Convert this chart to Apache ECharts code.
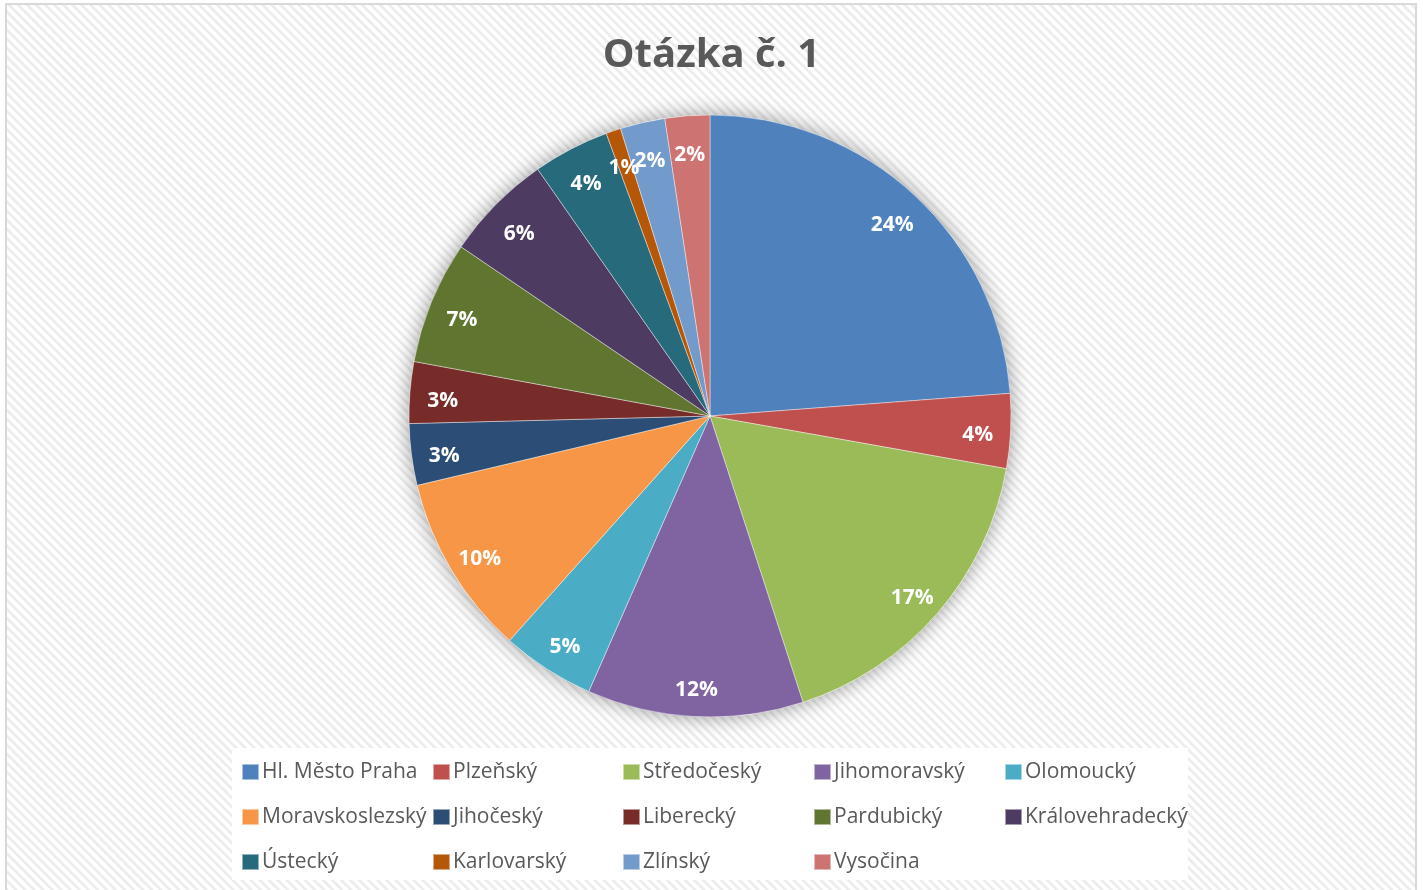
<!DOCTYPE html>
<html>
<head>
<meta charset="utf-8">
<script src="https://cdn.jsdelivr.net/npm/echarts@6/dist/echarts.min.js"></script>
<style>
  html, body { margin: 0; padding: 0; background: #fff; }
  #frame {
    position: absolute;
    left: 5px; top: 3px;
    width: 1408px; height: 900px;
    border: 2px solid #d9d9d9;
    background: repeating-linear-gradient(45deg, #ffffff 0px, #ffffff 2.5px, #ececec 3.5px, #ececec 5px, #ffffff 6.4px);
  }
  #chart { position: absolute; left: 0; top: 0; width: 1423px; height: 890px; }
</style>
</head>
<body>
<div id="frame"></div>
<div id="chart"></div>
<script>
// data
const regions = ['Hl. Město Praha', 'Plzeňský', 'Středočeský', 'Jihomoravský', 'Olomoucký',
  'Moravskoslezský', 'Jihočeský', 'Liberecký', 'Pardubický', 'Královehradecký',
  'Ústecký', 'Karlovarský', 'Zlínský', 'Vysočina'];
const shares = [23.8, 4.0, 17.2, 11.6, 5.0, 9.7, 3.3, 3.3, 6.6, 5.8, 4.1, 0.8, 2.4, 2.4];
const colors = ['#4F81BD', '#C0504D', '#9BBB59', '#8064A2', '#4BACC6', '#F79646', '#2C4D75',
  '#772C2A', '#5F7530', '#4D3B62', '#276A7C', '#B65708', '#729ACA', '#CD7371'];

const FONT = '"Open Sans", "Noto Sans", sans-serif';
const center = [710, 416];
const R = 301;

const pieData = regions.map((name, i) => ({ name, value: shares[i] }));

// legend laid out as 5 columns, items go row by row
const colX = [241, 432, 622, 813, 1004];
const legends = colX.map((x, c) => ({
  orient: 'vertical',
  left: x,
  top: 761,
  padding: 0,
  itemGap: 23,
  itemWidth: 17,
  itemHeight: 16,
  icon: 'rect',
  selectedMode: false,
  data: regions.filter((_, i) => i % 5 === c),
  textStyle: { fontFamily: FONT, fontSize: 21, color: '#595959', lineHeight: 22, padding: [0, 0, 0, -2] }
}));

const chart = echarts.init(document.getElementById('chart'));

chart.setOption({
  backgroundColor: 'transparent',
  animation: false,
  color: colors,
  title: {
    text: 'Otázka č. 1',
    left: 'center',
    top: 31,
    textStyle: { fontFamily: FONT, fontSize: 40, fontWeight: 'bold', color: '#595959' }
  },
  graphic: [{
    type: 'rect',
    left: 232, top: 748,
    shape: { width: 956, height: 132 },
    style: { fill: '#ffffff' },
    z: -10
  }],
  legend: legends,
  series: [
    {
      // shadow disc below the slices
      type: 'pie',
      center, radius: R,
      silent: true,
      z: 1,
      label: { show: false },
      itemStyle: { color: '#ffffff', shadowBlur: 20, shadowColor: 'rgba(0,0,0,0.4)' },
      data: [{ name: '_shadow', value: 1 }]
    },
    {
      type: 'pie',
      center, radius: R,
      startAngle: 90,
      clockwise: true,
      z: 2,
      label: { show: false },
      labelLine: { show: false },
      itemStyle: { borderColor: 'rgba(255,255,255,0.5)', borderWidth: 0.8 },
      data: pieData
    },
    {
      // label ring, percentages placed near the rim
      type: 'pie',
      center, radius: [229, R],
      startAngle: 90,
      clockwise: true,
      silent: true,
      z: 3,
      avoidLabelOverlap: false,
      minShowLabelAngle: 0,
      labelLayout: { hideOverlap: false },
      itemStyle: { color: 'rgba(0,0,0,0)' },
      label: {
        show: true,
        position: 'inner',
        formatter: p => Math.round(p.percent) + '%',
        color: '#ffffff',
        fontFamily: FONT,
        fontSize: 21,
        fontWeight: 'bold',
        offset: [0, 6]
      },
      labelLine: { show: false },
      data: pieData
    }
  ]
});
</script>
</body>
</html>
